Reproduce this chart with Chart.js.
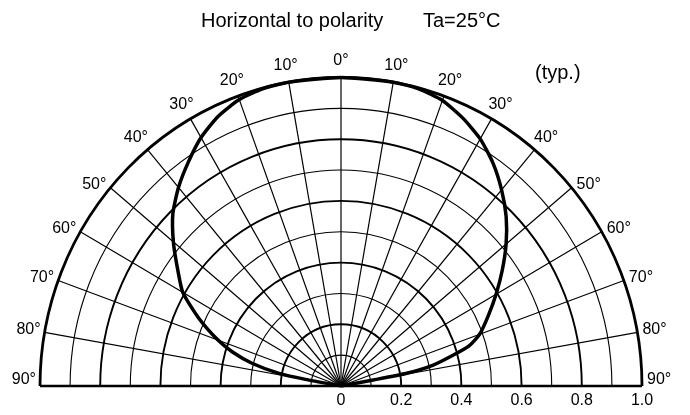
<!DOCTYPE html>
<html>
<head>
<meta charset="utf-8">
<script src="https://cdn.jsdelivr.net/npm/chart.js@4.4.0/dist/chart.umd.min.js"></script>
<style>
body { margin: 0; background: #fff; }
</style>
</head>
<body>
<canvas id="myChart" width="690" height="415"></canvas>
<script>
// measured curve, angle in degrees (left side negative), relative intensity
const angles = [-80, -79.7, -78.8, -76, -73, -70, -65, -60, -55, -50, -45, -40, -35, -30, -25, -20, -15, -10, 0,
                10, 15, 20, 25, 30, 35, 40, 45, 50, 55, 60, 65, 70, 73, 75, 77.5, 79.3, 79.7, 80]
const intensity = [0, 0.12, 0.21, 0.305, 0.377, 0.435, 0.522, 0.607, 0.663, 0.727, 0.79, 0.84, 0.885, 0.93, 0.965, 0.988, 0.998, 1.0, 1.0,
                   1.0, 0.997, 0.985, 0.958, 0.925, 0.881, 0.83, 0.776, 0.716, 0.654, 0.595, 0.54, 0.49, 0.445, 0.385, 0.314, 0.222, 0.109, 0]

const gridRadii = [0.1, 0.2, 0.3, 0.4, 0.5, 0.6, 0.7, 0.8, 0.9, 1.0]
const spokeAngles = [-80, -70, -60, -50, -40, -30, -20, -10, 0, 10, 20, 30, 40, 50, 60, 70, 80]
const labelAngles = [-90, -80, -70, -60, -50, -40, -30, -20, -10, 0, 10, 20, 30, 40, 50, 60, 70, 80, 90]
const tickValues = [0, 0.2, 0.4, 0.6, 0.8, 1.0]
const tickLabels = ['0', '0.2', '0.4', '0.6', '0.8', '1.0']
const titleText = 'Horizontal to polarity'
const condText = 'Ta=25\u00B0C'
const noteText = '(typ.)'

const FONT = "'Liberation Sans', Arial, sans-serif"
const rad = a => a * Math.PI / 180

const points = angles.map((a, i) => ({
    x: intensity[i] * Math.sin(rad(a)),
    y: intensity[i] * Math.cos(rad(a))
}))

const polarGrid = {
    id: 'polarGrid',
    beforeDatasetsDraw(chart) {
        const c = chart.ctx
        const xs = chart.scales.x
        const ys = chart.scales.y
        const cx = xs.getPixelForValue(0)
        const cy = ys.getPixelForValue(0)
        c.save()
        c.strokeStyle = '#000'
        gridRadii.forEach(r => {
            const rx = xs.getPixelForValue(r) - cx
            const ry = cy - ys.getPixelForValue(r)
            const step = Math.round(r * 10)
            c.lineWidth = step === 10 ? 2.8 : (step % 2 === 0 ? 1.9 : 1.1)
            c.beginPath()
            c.ellipse(cx, cy, rx, ry, 0, Math.PI, 2 * Math.PI)
            c.stroke()
        })
        c.lineWidth = 1.2
        spokeAngles.forEach(a => {
            c.beginPath()
            c.moveTo(cx, cy)
            c.lineTo(xs.getPixelForValue(Math.sin(rad(a))), ys.getPixelForValue(Math.cos(rad(a))))
            c.stroke()
        })
        // base line
        c.lineWidth = 2.6
        c.beginPath()
        c.moveTo(xs.getPixelForValue(-1), cy)
        c.lineTo(xs.getPixelForValue(1), cy)
        c.stroke()
        c.restore()
    },
    afterDraw(chart) {
        const c = chart.ctx
        const xs = chart.scales.x
        const ys = chart.scales.y
        const cy = ys.getPixelForValue(0)
        c.save()
        c.fillStyle = '#000'

        // angle labels
        c.font = '16px ' + FONT
        c.textBaseline = 'middle'
        labelAngles.forEach(a => {
            const s = Math.sin(rad(a))
            const co = Math.cos(rad(a))
            const txt = Math.abs(a) + '\u00B0'
            if (Math.abs(a) <= 40) {
                c.textAlign = 'center'
                c.fillText(txt, xs.getPixelForValue(1.06 * s), ys.getPixelForValue(1.06 * co) + 2)
            } else {
                const px = xs.getPixelForValue(s)
                let py = ys.getPixelForValue(co) - 3
                if (Math.abs(a) === 90) py -= 3
                c.textAlign = a < 0 ? 'right' : 'left'
                c.fillText(txt, px + (a < 0 ? -4 : 5), py)
            }
        })

        // intensity ticks
        c.textAlign = 'center'
        tickValues.forEach((v, i) => {
            c.fillText(tickLabels[i], xs.getPixelForValue(v), cy + 15)
        })

        // title and note
        c.font = '20px ' + FONT
        c.textAlign = 'left'
        c.textBaseline = 'alphabetic'
        c.fillText(titleText, 201, 27)
        c.fillText(condText, 423, 27)
        c.textBaseline = 'middle'
        c.fillText(noteText, 535, 73)
        c.restore()
    }
}

const ctx = document.getElementById('myChart')

new Chart(ctx, {
    type: 'scatter',
    data: {
        datasets: [{
            data: points,
            showLine: true,
            borderColor: '#000',
            borderWidth: 3.5,
            pointRadius: 0,
            tension: 0.2,
            clip: false
        }]
    },
    options: {
        responsive: false,
        devicePixelRatio: 1,
        animation: false,
        layout: {
            padding: { left: 40, right: 48, top: 77.5, bottom: 29 }
        },
        scales: {
            x: { type: 'linear', min: -1, max: 1, display: false },
            y: { type: 'linear', min: 0, max: 1, display: false }
        },
        plugins: {
            legend: { display: false },
            tooltip: { enabled: false }
        }
    },
    plugins: [polarGrid]
});
</script>
</body>
</html>
